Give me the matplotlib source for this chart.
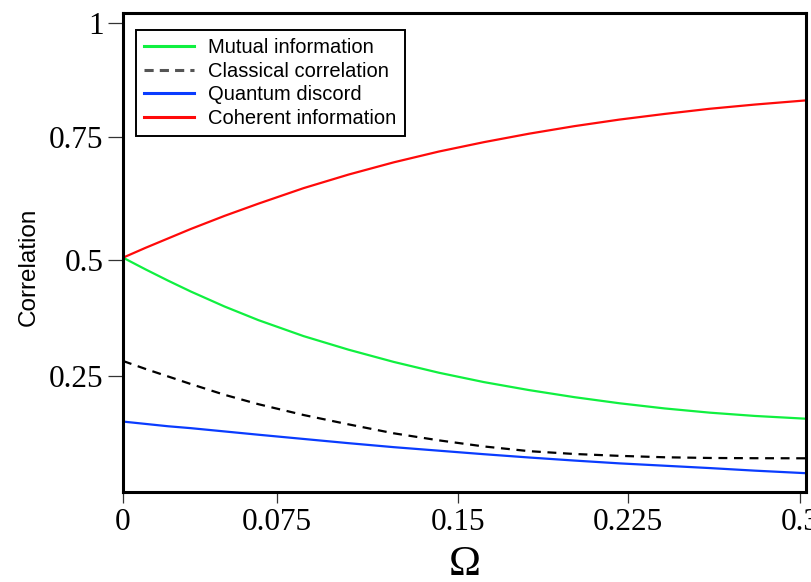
import matplotlib
matplotlib.use("Agg")
import matplotlib.pyplot as plt
from matplotlib.lines import Line2D

# values
omega = [0, 0.01, 0.02, 0.03, 0.045, 0.06, 0.08, 0.1, 0.12, 0.14, 0.16, 0.18,
         0.2, 0.22, 0.24, 0.26, 0.28, 0.303]
mutual = [0.5, 0.475, 0.451, 0.428, 0.396, 0.367, 0.333, 0.304, 0.278, 0.255,
          0.235, 0.218, 0.203, 0.190, 0.179, 0.170, 0.163, 0.157]
classical = [0.280, 0.263, 0.247, 0.231, 0.208, 0.188, 0.165, 0.145, 0.126, 0.111,
             0.098, 0.088, 0.082, 0.078, 0.075, 0.0735, 0.073, 0.0728]
discord = [0.151, 0.146, 0.141, 0.137, 0.130, 0.123, 0.114, 0.105, 0.0965, 0.089,
           0.0815, 0.0745, 0.068, 0.062, 0.057, 0.052, 0.0465, 0.041]
coherent = [0.5, 0.521, 0.541, 0.561, 0.589, 0.615, 0.648, 0.677, 0.703, 0.726,
            0.746, 0.764, 0.780, 0.794, 0.806, 0.817, 0.826, 0.835]

xtick_pos = [0, 0.0682, 0.1484, 0.2238, 0.3]
xtick_lab = ["0", "0.075", "0.15", "0.225", "0.3"]
ytick_pos = [0.248, 0.495, 0.757, 1.0]
ytick_lab = ["0.25", "0.5", "0.75", "1"]

c_green = "#10f040"
c_blue = "#0a3cff"
c_red = "#ff0a0a"

fig = plt.figure(figsize=(8.12, 5.82), dpi=100)
ax = fig.add_axes([0.1515, 0.1538, 0.8411, 0.8239])

ax.plot(omega, mutual, color=c_green, lw=1.6)
ax.plot(omega, classical, color="black", lw=1.6, dashes=(4, 3))
ax.plot(omega, discord, color=c_blue, lw=1.6)
ax.plot(omega, coherent, color=c_red, lw=1.6)

ax.set_xlim(0, 0.3027)
ax.set_ylim(0, 1.021)

ax.set_xticks(xtick_pos)
ax.set_xticklabels(xtick_lab, family="Liberation Serif", fontsize=22.5)
ax.set_yticks(ytick_pos)
ax.set_yticklabels(ytick_lab, family="Liberation Serif", fontsize=22.5)
ax.tick_params(axis="x", direction="out", length=8, width=0.9, color="#333333", pad=3)
ax.tick_params(axis="y", direction="out", length=11, width=0.9, color="#333333", pad=3)

for s in ax.spines.values():
    s.set_linewidth(2.2)

ax.set_xlabel("Ω", family="Liberation Serif", fontsize=31, labelpad=6)
ax.set_ylabel("Correlation", family="Liberation Sans", fontsize=17.5)
ax.yaxis.set_label_coords(-0.1215, 0.47)

handles = [
    Line2D([], [], color=c_green, lw=2.2),
    Line2D([], [], color="#555555", lw=2.2, dashes=(3, 2)),
    Line2D([], [], color=c_blue, lw=2.2),
    Line2D([], [], color=c_red, lw=2.2),
]
names = ["Mutual information", "Classical correlation", "Quantum discord", "Coherent information"]
leg = ax.legend(handles, names, loc="upper left", bbox_to_anchor=(0.004, 0.985),
                prop={"family": "Liberation Sans", "size": 14.5},
                handlelength=2.5, labelspacing=0.22, borderpad=0.4,
                handletextpad=0.7, fancybox=False, framealpha=1)
leg.get_frame().set_edgecolor("black")
leg.get_frame().set_linewidth(1.4)

fig.savefig("out.png", dpi=100)
